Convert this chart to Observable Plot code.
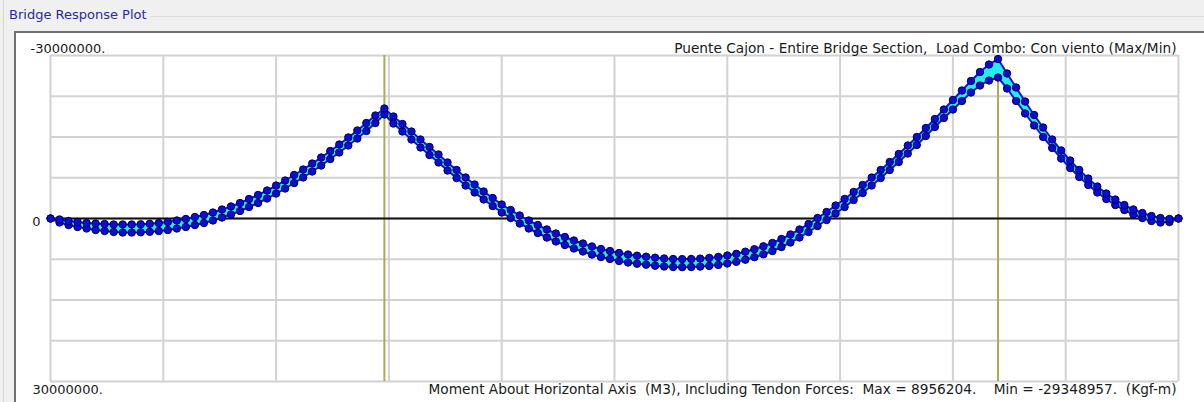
<!DOCTYPE html>
<html><head><meta charset="utf-8">
<script src="https://cdn.jsdelivr.net/npm/d3@7"></script>
<script src="https://cdn.jsdelivr.net/npm/@observablehq/plot@0.6"></script>
<style>
html,body{margin:0;padding:0;background:#f0f0f0;width:1204px;height:402px;overflow:hidden;font-family:"DejaVu Sans","Liberation Sans",sans-serif;}
#edge{position:absolute;left:3px;top:0;width:1px;height:402px;background:#d6d6d6;}
#groupline{position:absolute;left:150px;top:16px;width:1054px;height:1px;background:#dcdcdc;}
#group{position:absolute;left:9px;top:7px;font-size:13px;color:#2a2aa0;font-family:"DejaVu Sans","Liberation Sans",sans-serif;}
#frame{position:absolute;left:14px;top:31px;width:1190px;height:371px;border-left:2px solid #707070;border-top:2px solid #707070;background:#fff;}
#frame svg{display:block;}
</style></head><body>
<div id="edge"></div>
<div id="groupline"></div>
<div id="group">Bridge Response Plot</div>
<div id="frame"></div>
<script>
// Stations along the bridge (output points), supports at stations 37 and 105
const stations = d3.range(0, 126);
const supports = [37, 105];

// Moment envelopes, in millions of Kgf-m
const minMoment = [
  0, 0.18, 0.46, 0.64, 0.83, 0.92, 1.01, 1.10, 1.10, 1.10,
  1.07, 0.98, 0.83, 0.64, 0.37, 0.09, -0.28, -0.64, -1.10, -1.66,
  -2.21, -2.85, -3.59, -4.33, -5.15, -6.07, -6.99, -8.01, -9.02, -10.12,
  -11.23, -12.42, -13.62, -14.91, -16.20, -17.58, -18.96, -20.25,
  -18.77, -17.39, -16.01, -14.54, -13.16, -11.78, -10.31, -8.93, -7.55, -6.26,
  -4.97, -3.77, -2.58, -1.56, -0.55, 0.37, 1.20, 2.02, 2.76, 3.40,
  4.05, 4.60, 5.15, 5.61, 5.98, 6.35, 6.63, 6.85, 7.03, 7.21,
  7.36, 7.45, 7.47, 7.45, 7.38, 7.25, 7.07, 6.81, 6.50, 6.11,
  5.65, 5.12, 4.51, 3.77, 2.94, 2.02, 1.01, -0.09, -1.20, -2.39,
  -3.59, -4.88, -6.17, -7.55, -8.93, -10.40, -11.87, -13.44, -15.00, -16.66,
  -18.31, -20.06, -21.81, -23.56, -25.31, -26.96, -28.34, -29.348957,
  -26.69, -24.11, -21.53, -19.05, -16.75, -14.54, -12.52, -10.67, -8.93, -7.36,
  -5.89, -4.60, -3.50, -2.48, -1.66, -1.01, -0.46, -0.09, 0.09, 0
];
const maxMoment = [
  0, 0.74, 1.20, 1.56, 1.84, 2.12, 2.30, 2.48, 2.58, 2.58,
  2.54, 2.45, 2.30, 2.12, 1.84, 1.56, 1.20, 0.83, 0.37, -0.18,
  -0.74, -1.38, -2.12, -2.85, -3.68, -4.60, -5.52, -6.53, -7.55, -8.65,
  -9.75, -10.95, -12.15, -13.44, -14.72, -16.10, -17.58, -19.14,
  -17.48, -16.01, -14.54, -13.07, -11.69, -10.31, -8.83, -7.45, -6.07, -4.79,
  -3.50, -2.30, -1.10, -0.09, 0.92, 1.84, 2.67, 3.50, 4.23, 4.88,
  5.52, 6.07, 6.63, 7.09, 7.45, 7.82, 8.10, 8.32, 8.50, 8.69,
  8.83, 8.93, 8.956204, 8.93, 8.85, 8.72, 8.54, 8.28, 7.97, 7.58,
  7.12, 6.59, 5.98, 5.25, 4.42, 3.50, 2.48, 1.38, 0.28, -0.92,
  -2.12, -3.40, -4.69, -6.07, -7.45, -8.93, -10.40, -11.96, -13.53, -15.18,
  -16.84, -18.50, -20.06, -21.63, -23.19, -24.48, -25.40, -25.95,
  -23.93, -21.63, -19.33, -17.12, -15.00, -12.98, -11.04, -9.29, -7.64, -6.17,
  -4.79, -3.59, -2.48, -1.56, -0.74, -0.09, 0.46, 0.74, 0.64, 0
];

const xGrid = [0, 12.5, 25, 37.5, 50, 62.5, 75, 87.5, 100, 112.5, 125];
const yGrid = [-30e6, -22.5e6, -15e6, -7.5e6, 0, 7.5e6, 15e6, 22.5e6, 30e6];
const yLabelValues = [-30e6, 0, 30e6];
const yLabelText = ["-30000000.", "0", "30000000."];
const title = "Puente Cajon - Entire Bridge Section,  Load Combo: Con viento (Max/Min)";
const caption = "Moment About Horizontal Axis  (M3), Including Tendon Forces:  Max = 8956204.    Min = -29348957.  (Kgf-m)";

const rows = stations.map((s, i) => ({s, min: minMoment[i] * 1e6, max: maxMoment[i] * 1e6}));

const font = {fontFamily: "DejaVu Sans, Liberation Sans, sans-serif", fontSize: 13, fill: "#1a1a1a"};
const bigFont = {...font, fontSize: 13.7};

const chart = Plot.plot({
  width: 1188,
  height: 369,
  marginLeft: 34,
  marginRight: 26,
  marginTop: 22,
  marginBottom: 21,
  style: {background: "#fff", overflow: "visible"},
  x: {domain: [0, 125], axis: null},
  y: {domain: [-30e6, 30e6], reverse: true, axis: null},
  marks: [
    Plot.ruleX(xGrid, {stroke: "#d2d2d2", strokeWidth: 2}),
    Plot.ruleY(yGrid, {stroke: "#d2d2d2", strokeWidth: 2}),
    Plot.ruleX(supports, {stroke: "#b0aa52", strokeWidth: 2}),
    Plot.ruleY([0], {stroke: "#111", strokeWidth: 2}),
    Plot.areaY(rows, {x: "s", y1: "min", y2: "max", fill: "#22eeee", curve: "linear"}),
    Plot.line(rows, {x: "s", y: "min", stroke: "#0a14e6", strokeWidth: 2}),
    Plot.line(rows, {x: "s", y: "max", stroke: "#0a14e6", strokeWidth: 2}),
    Plot.dot(rows, {x: "s", y: "max", r: 3.7, fill: "#0c0cd8", stroke: "#000050", strokeWidth: 1}),
    Plot.dot(rows, {x: "s", y: "min", r: 3.7, fill: "#0c0cd8", stroke: "#000050", strokeWidth: 1}),
    Plot.text([yLabelText[0]], {x: 0, y: yLabelValues[0], textAnchor: "start", lineAnchor: "bottom", dx: -20, dy: -3, ...font}),
    Plot.text([yLabelText[1]], {x: 0, y: yLabelValues[1], textAnchor: "end", lineAnchor: "middle", dx: -10, dy: 3, ...font}),
    Plot.text([yLabelText[2]], {x: 0, y: yLabelValues[2], textAnchor: "start", lineAnchor: "top", dx: -18, dy: 3, ...font}),
    Plot.text([title], {frameAnchor: "top-right", textAnchor: "end", lineAnchor: "bottom", dx: -2, dy: -3, ...bigFont}),
    Plot.text([caption], {frameAnchor: "bottom-right", textAnchor: "end", lineAnchor: "top", dx: -2, dy: 3, ...bigFont})
  ]
});
chart.querySelectorAll("text").forEach(t => t.setAttribute("xml:space", "preserve"));
chart.style.whiteSpace = "pre";
document.getElementById("frame").appendChild(chart);
</script>
</body></html>
